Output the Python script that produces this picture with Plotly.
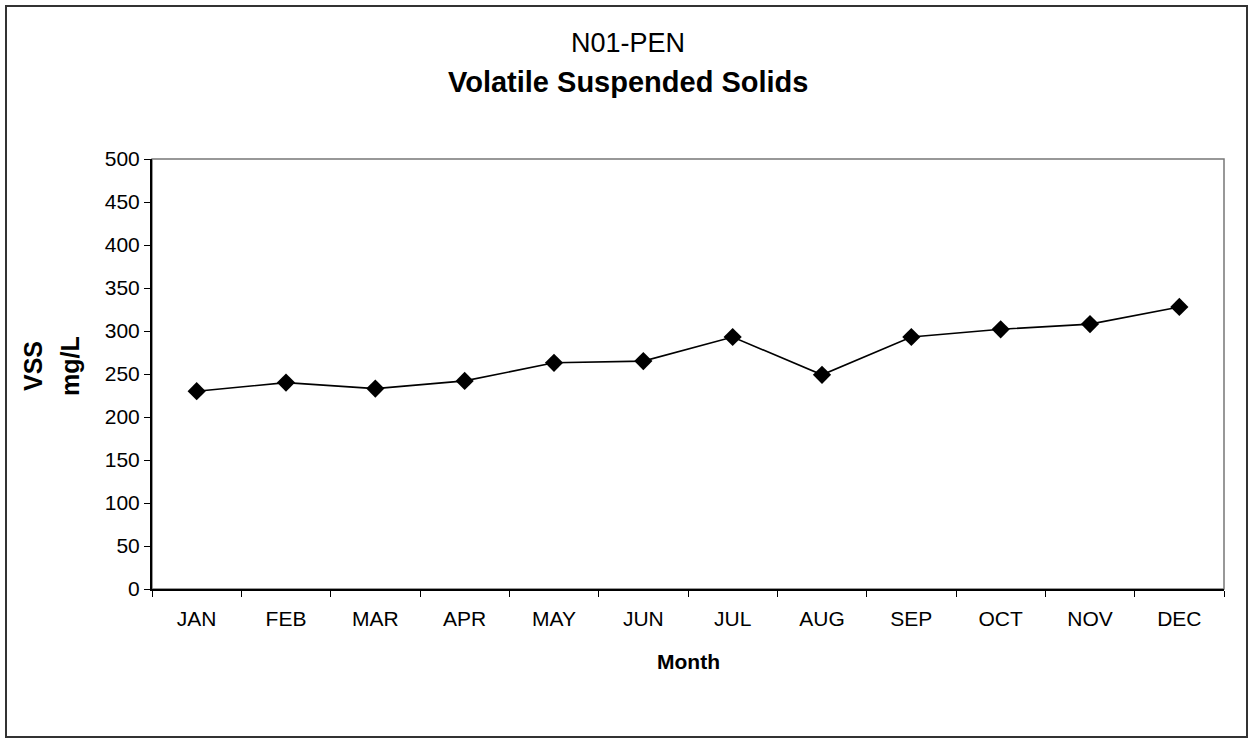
import plotly.graph_objects as go

months = ["JAN", "FEB", "MAR", "APR", "MAY", "JUN", "JUL", "AUG", "SEP", "OCT", "NOV", "DEC"]
vss = [230, 240, 233, 242, 263, 265, 293, 249, 293, 302, 308, 328]
y_ticks = [0, 50, 100, 150, 200, 250, 300, 350, 400, 450, 500]

W, H = 1251, 739
L, R, T, B = 152, 1224, 159, 589
pw, ph = R - L, B - T

def px(x):
    return (x - L) / pw

def py(y):
    return (B - y) / ph

FONT = "Liberation Sans, Arial, sans-serif"

fig = go.Figure()
fig.add_trace(go.Scatter(
    x=months, y=vss, mode="lines+markers",
    line=dict(color="black", width=1.6),
    marker=dict(symbol="diamond", size=14, color="black"),
    showlegend=False,
))

fig.update_layout(
    width=W, height=H,
    margin=dict(l=L, r=W - R, t=T, b=H - B, autoexpand=False),
    paper_bgcolor="white", plot_bgcolor="white",
    font=dict(family=FONT, color="black", size=21),
    xaxis=dict(
        type="category", range=[-0.5, 11.5], tickson="boundaries",
        ticks="outside", ticklen=6, tickcolor="black", tickwidth=1,
        showline=True, linecolor="black", linewidth=2,
        showgrid=False, zeroline=False,
        tickfont=dict(size=21, family=FONT),
        ticklabelstandoff=10,
    ),
    yaxis=dict(
        range=[0, 500], tickvals=y_ticks,
        ticks="outside", ticklen=6, tickcolor="black", tickwidth=1,
        showline=True, linecolor="black", linewidth=2,
        showgrid=False, zeroline=False,
        tickfont=dict(size=21, family=FONT),
    ),
    shapes=[
        dict(type="rect", xref="paper", yref="paper", x0=0, x1=1, y0=0, y1=1,
             line=dict(color="#777777", width=1.5), layer="below"),
        dict(type="rect", xref="paper", yref="paper",
             x0=px(6), x1=px(1247), y0=py(737), y1=py(6),
             line=dict(color="#333333", width=2), layer="below"),
    ],
    annotations=[
        dict(text="N01-PEN", xref="paper", yref="paper", x=px(628), y=py(43),
             showarrow=False, font=dict(size=27, family=FONT), xanchor="center", yanchor="middle"),
        dict(text="<b>Volatile Suspended Solids</b>", xref="paper", yref="paper", x=px(628), y=py(82),
             showarrow=False, font=dict(size=29, family=FONT), xanchor="center", yanchor="middle"),
        dict(text="<b>Month</b>", xref="paper", yref="paper", x=px(688), y=py(661),
             showarrow=False, font=dict(size=21, family=FONT), xanchor="center", yanchor="middle"),
        dict(text="<b>VSS</b>", xref="paper", yref="paper", x=px(33), y=py(366),
             showarrow=False, textangle=-90, font=dict(size=25, family=FONT),
             xanchor="center", yanchor="middle"),
        dict(text="<b>mg/L</b>", xref="paper", yref="paper", x=px(70), y=py(366),
             showarrow=False, textangle=-90, font=dict(size=25, family=FONT),
             xanchor="center", yanchor="middle"),
    ],
)

fig.write_html("out.html",
               config={"displayModeBar": False},
               post_script="document.body.style.margin='0';document.body.style.overflow='hidden';")
